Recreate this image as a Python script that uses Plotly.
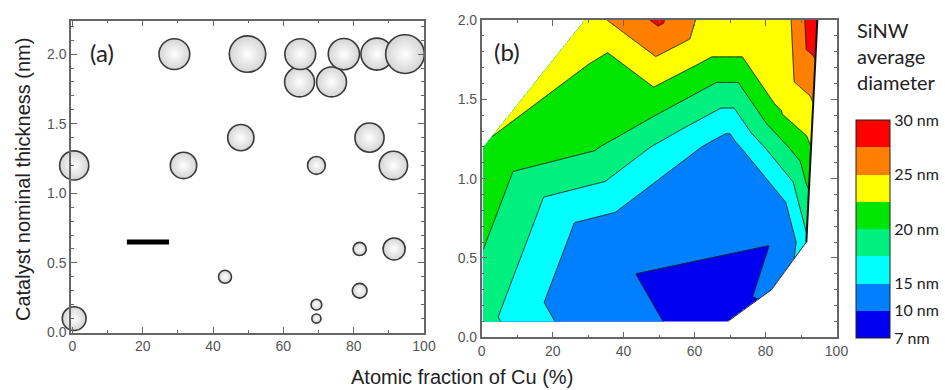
import numpy as np
import plotly.graph_objects as go

# ---------------- data ----------------
cu_fraction = [0.5, 0.5, 29.0, 31.6, 43.4, 47.9, 49.8, 64.6, 64.8, 69.4, 69.4,
               69.4, 73.7, 77.2, 81.7, 81.7, 84.5, 86.6, 91.5, 91.3, 94.6]
thickness = [0.1, 1.2, 2.0, 1.2, 0.4, 1.4, 2.0, 1.8, 2.0, 0.1, 0.2,
             1.2, 1.8, 2.0, 0.3, 0.6, 1.4, 2.0, 0.6, 1.2, 2.0]
diameter_nm = [18.3, 22.4, 23.7, 20.3, 10.0, 20.2, 28.0, 23.0, 23.7, 7.0, 8.3,
               13.7, 23.0, 24.0, 11.3, 10.1, 22.4, 24.6, 17.0, 21.8, 29.8]

levels_nm = [7, 10, 15, 17.5, 20, 22.5, 25, 27.5, 30]
level_labels = ["7 nm", "10 nm", "15 nm", "20 nm", "25 nm", "30 nm"]
level_label_values = [7, 10, 15, 20, 25, 30]
band_colors = ["#0000F0", "#0080FF", "#00FFFF", "#00F080",
               "#00E600", "#FFFF00", "#FF8000", "#FF0000"]

scale_bar_x = [15.5, 27.5]
scale_bar_y = [0.65, 0.65]

# hull vertices (indices into the point lists) on the lower-right / right edge
hull_lower = [9, 14, 18]
hull_right = [18, 20]

# ---------------- Delaunay triangulation (Bowyer-Watson) ----------------
X = np.array(cu_fraction, float)
Y = np.array(thickness, float)
Zv = np.array(diameter_nm, float)
P = np.column_stack([X / 100.0, Y / 2.0])


def delaunay(pts):
    n = len(pts)
    mn, mx = pts.min(0), pts.max(0)
    d = max(mx - mn) * 100
    c = (mn + mx) / 2
    allp = np.vstack([pts, [[c[0] - 2 * d, c[1] - d], [c[0] + 2 * d, c[1] - d], [c[0], c[1] + 2 * d]]])
    tris = [(n, n + 1, n + 2)]

    def circ(t):
        (ax, ay), (bx, by), (cx, cy) = allp[list(t)]
        dd = 2 * (ax * (by - cy) + bx * (cy - ay) + cx * (ay - by))
        ux = ((ax**2 + ay**2) * (by - cy) + (bx**2 + by**2) * (cy - ay) + (cx**2 + cy**2) * (ay - by)) / dd
        uy = ((ax**2 + ay**2) * (cx - bx) + (bx**2 + by**2) * (ax - cx) + (cx**2 + cy**2) * (bx - ax)) / dd
        return ux, uy, (ax - ux) ** 2 + (ay - uy) ** 2

    for i in range(n):
        px, py = allp[i]
        bad = []
        for t in tris:
            ux, uy, r2 = circ(t)
            if (px - ux) ** 2 + (py - uy) ** 2 < r2 * (1 - 1e-12):
                bad.append(t)
        edges = {}
        for t in bad:
            for e in ((t[0], t[1]), (t[1], t[2]), (t[2], t[0])):
                k = tuple(sorted(e))
                edges[k] = edges.get(k, 0) + 1
        tris = [t for t in tris if t not in bad]
        for e, cnt in edges.items():
            if cnt == 1:
                tris.append((e[0], e[1], i))
    return [t for t in tris if max(t) < n]


tris = delaunay(P)

gx = np.linspace(0, 100, 401)
gy = np.linspace(0, 2, 401)
GX, GY = np.meshgrid(gx, gy)
Z = np.full(GX.shape, np.nan)
for t in tris:
    x1, x2, x3 = X[list(t)]
    y1, y2, y3 = Y[list(t)]
    z1, z2, z3 = Zv[list(t)]
    det = (y2 - y3) * (x1 - x3) + (x3 - x2) * (y1 - y3)
    if abs(det) < 1e-12:
        continue
    l1 = ((y2 - y3) * (GX - x3) + (x3 - x2) * (GY - y3)) / det
    l2 = ((y3 - y1) * (GX - x3) + (x1 - x3) * (GY - y3)) / det
    l3 = 1 - l1 - l2
    m = (l1 >= -1e-9) & (l2 >= -1e-9) & (l3 >= -1e-9)
    Z[m] = l1[m] * z1 + l2[m] * z2 + l3[m] * z3

# map nm values onto equally spaced band indices
band_idx = np.arange(len(levels_nm))
Zi = np.where(np.isnan(Z), np.nan, np.interp(np.nan_to_num(Z), levels_nm, band_idx))

nb = len(band_colors)
fill_scale = [[k / (nb - 1), c] for k, c in enumerate(band_colors)]
bar_scale = []
for k, c in enumerate(band_colors):
    bar_scale += [[k / nb, c], [(k + 1) / nb, c]]

fig = go.Figure()

# panel (a) bubbles
fig.add_trace(go.Scatter(
    x=cu_fraction, y=thickness, mode="markers", xaxis="x", yaxis="y", cliponaxis=False,
    marker=dict(size=[d * 1.3 for d in diameter_nm], sizemode="diameter",
                color="#d4d4d4", gradient=dict(type="radial", color="#ffffff"),
                line=dict(color="#3a3a3a", width=1.6), opacity=1),
    hoverinfo="skip", showlegend=False))
fig.add_trace(go.Scatter(
    x=scale_bar_x, y=scale_bar_y, mode="lines", xaxis="x", yaxis="y",
    line=dict(color="black", width=5), hoverinfo="skip", showlegend=False))

# panel (b) contour
fig.add_trace(go.Contour(
    x=gx, y=gy, z=Zi, xaxis="x2", yaxis="y2", connectgaps=False,
    contours=dict(start=1, end=7, size=1, coloring="fill"),
    colorscale=fill_scale, showscale=False,
    line=dict(color="#222", width=1), hoverinfo="skip"))
fig.add_trace(go.Scatter(
    x=[cu_fraction[i] for i in hull_lower], y=[thickness[i] for i in hull_lower],
    mode="lines", xaxis="x2", yaxis="y2", line=dict(color="#333", width=1),
    hoverinfo="skip", showlegend=False))
fig.add_trace(go.Scatter(
    x=[cu_fraction[i] for i in hull_right], y=[thickness[i] for i in hull_right],
    mode="lines", xaxis="x2", yaxis="y2", line=dict(color="#111", width=2),
    hoverinfo="skip", showlegend=False))

# colour bar (equal bands)
cb_bottom = 1 - 338 / 390
cb_len = 218 / 390
fig.add_trace(go.Scatter(
    x=[None], y=[None], mode="markers", showlegend=False, hoverinfo="skip",
    marker=dict(color=[0], cmin=0, cmax=nb, colorscale=bar_scale, showscale=True,
                colorbar=dict(
                    x=856 / 945, xanchor="left", y=cb_bottom, yanchor="bottom",
                    len=cb_len, lenmode="fraction", thickness=34, thicknessmode="pixels",
                    xpad=0, ypad=0, outlinecolor="#222", outlinewidth=1,
                    tickvals=[float(np.interp(v, levels_nm, band_idx)) for v in level_label_values],
                    ticktext=level_labels, ticks="",
                    tickfont=dict(family="Lato", size=16, color="#222")))))

shapes = []
for k in range(1, nb):
    yy = cb_bottom + cb_len * k / nb
    shapes.append(dict(type="line", xref="paper", yref="paper", x0=856 / 945, x1=890 / 945,
                       y0=yy, y1=yy, line=dict(color="#222", width=1)))

tickfont = dict(family="Liberation Sans, Arial", size=14, color="#555")
ax_common = dict(showline=True, linecolor="#666", linewidth=1.5, mirror="ticks",
                 ticks="inside", ticklen=6, tickcolor="#666", tickwidth=1.2,
                 showgrid=False, zeroline=False, tickfont=tickfont, automargin=False)

fig.update_layout(
    template="none",
    width=945, height=390, margin=dict(l=0, r=0, t=0, b=0, autoexpand=False),
    paper_bgcolor="white", plot_bgcolor="white", showlegend=False,
    xaxis=dict(domain=[71 / 945, 424 / 945], range=[-0.4, 100], dtick=20, anchor="y",
               minor=dict(dtick=10, ticks="inside", ticklen=3, tickcolor="#666"), **ax_common),
    yaxis=dict(domain=[1 - 332.5 / 390, 1 - 20.7 / 390], range=[0, 2.24], dtick=0.5,
               tickformat=".1f", anchor="x",
               minor=dict(dtick=0.1, ticks="inside", ticklen=3, tickcolor="#666"), **ax_common),
    xaxis2=dict(domain=[481.7 / 945, 836.5 / 945], range=[0, 100], dtick=20, anchor="y2",
                minor=dict(dtick=10, ticks="inside", ticklen=3, tickcolor="#666"), **ax_common),
    yaxis2=dict(domain=[1 - 337.3 / 390, 1 - 20 / 390], range=[0, 2], dtick=0.5,
                tickformat=".1f", anchor="x2",
                minor=dict(dtick=0.1, ticks="inside", ticklen=3, tickcolor="#666"), **ax_common),
    shapes=shapes,
    annotations=[
        dict(text="(a)", x=88 / 945, y=1 - 53 / 390, xref="paper", yref="paper",
             xanchor="left", yanchor="middle", showarrow=False,
             font=dict(family="Lato", size=24, color="#222")),
        dict(text="(b)", x=492 / 945, y=1 - 52 / 390, xref="paper", yref="paper",
             xanchor="left", yanchor="middle", showarrow=False,
             font=dict(family="Lato", size=24, color="#222")),
        dict(text="Atomic fraction of Cu (%)", x=462 / 945, y=1 - 377 / 390,
             xref="paper", yref="paper", xanchor="center", yanchor="middle", showarrow=False,
             font=dict(family="Liberation Sans, Arial", size=20, color="#222")),
        dict(text="Catalyst nominal thickness (nm)", x=23 / 945, y=1 - 180 / 390,
             xref="paper", yref="paper", xanchor="center", yanchor="middle", showarrow=False,
             textangle=-90, font=dict(family="Liberation Sans, Arial", size=20, color="#222")),
        dict(text="SiNW<br>average<br>diameter", x=855 / 945, y=1 - 16 / 390,
             xref="paper", yref="paper", xanchor="left", yanchor="top", align="left",
             showarrow=False, font=dict(family="Lato", size=20, color="#222")),
    ],
)

fig.write_html("out.html", config={"displayModeBar": False},
               post_script="document.body.style.margin='0px';document.body.style.overflow='hidden';")
